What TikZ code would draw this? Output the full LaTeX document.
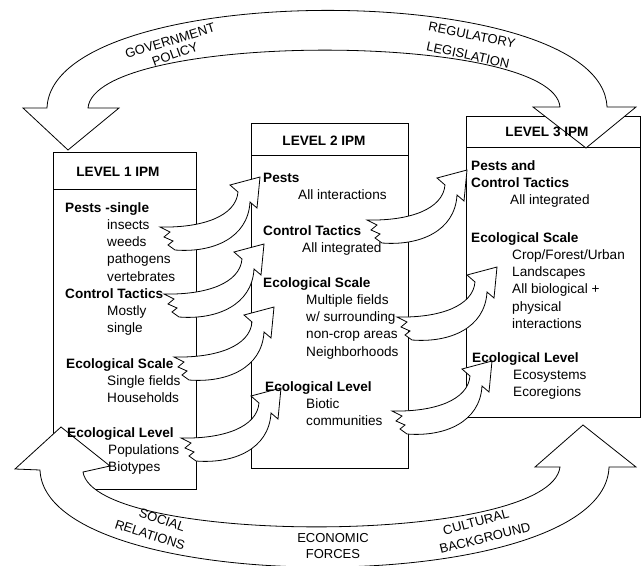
\documentclass[tikz,border=0pt]{standalone}
\usepackage{fontspec}
\setmainfont{Liberation Sans}
\usepackage{tikz}
\newcommand{\bentarrow}[1]{%
  \filldraw[band,shift={#1}] (-8,-11) -- (2,-6) -- (-4,-1) -- (5,3) -- (0,7) -- (7,12)
    .. controls (45,15) and (80,0) .. (82,-36) -- (89,-30) -- (92,-61) -- (62,-53) -- (70,-46)
    .. controls (68,-22) and (35,-10) .. (-8,-11) -- cycle;}

\begin{document}
\begin{tikzpicture}[x=1pt,y=-1pt,
    ipmbox/.style={draw,line width=0.9pt,fill=white},
    band/.style={draw,fill=white,line width=0.8pt,line join=miter},
    boxtitle/.style={inner sep=0pt,font=\bfseries\fontsize{13.6}{17.3}\selectfont},
    sect/.style={anchor=north west,inner sep=0pt,align=left,font=\fontsize{13.6}{17.3}\selectfont},
    arclabel/.style={inner sep=0pt,font=\fontsize{13}{15}\selectfont}]
  \useasboundingbox (0,0) rectangle (642,565);
  \fill[white] (0,0) rectangle (642,565);
  % the three boxes
  \draw[ipmbox] (53,152) rectangle (196,489);
  \draw[line width=0.9pt] (53,189) -- (196,189);
  \draw[ipmbox] (251,123) rectangle (408,468);
  \draw[line width=0.9pt] (251,155) -- (408,155);
  \draw[ipmbox] (466,116) rectangle (640,417);
  \draw[line width=0.9pt] (466,147) -- (640,147);
  % bent arrows, level 1 -> 2 -> 3
  \bentarrow{(168,238)}
  \bentarrow{(172,305)}
  \bentarrow{(182,368)}
  \bentarrow{(189,449)}
  \bentarrow{(375,231)}
  \bentarrow{(405,328)}
  \bentarrow{(400,422)}
  % big arcs
  \filldraw[band] (47,108) -- (23,108) -- (68,150) -- (119,108) -- (88,108)
    .. controls (95,31) and (553,31) .. (560,107) -- (533,107) -- (586,148) -- (636,107) -- (607,107)
    .. controls (602,-22) and (52,-22) .. (47,108) -- cycle;
  \filldraw[band] (40,470) -- (15,469) -- (61,427) -- (110,466) -- (83,472)
    .. controls (95,546) and (550,546) .. (560,467) -- (535,467) -- (583,425) -- (636,467) -- (609,467)
    .. controls (605,600) and (45,600) .. (40,470) -- cycle;
  % titles
  \node[boxtitle] (title1) at (118,172) {LEVEL 1 IPM};
  \node[boxtitle] (title2) at (324,141) {LEVEL 2 IPM};
  \node[boxtitle] (title3) at (547,132) {LEVEL 3 IPM};
  % level 1
  \node[sect] (pests1) at (65,202) {\textbf{Pests -single}\\\hspace*{42pt}insects\\\hspace*{42pt}weeds\\\hspace*{42pt}pathogens\\\hspace*{42pt}vertebrates};
  \node[sect] (tactics1) at (65,288) {\textbf{Control Tactics}\\\hspace*{42pt}Mostly\\\hspace*{42pt}single};
  \node[sect] (scale1) at (66,358) {\textbf{Ecological Scale}\\\hspace*{41pt}Single fields\\\hspace*{41pt}Households};
  \node[sect] (level1) at (67,427) {\textbf{Ecological Level}\\\hspace*{41pt}Populations\\\hspace*{41pt}Biotypes};
  % level 2
  \node[sect] (pests2) at (263,173) {\textbf{Pests}\\\hspace*{35pt}All interactions};
  \node[sect] (tactics2) at (263,225) {\textbf{Control Tactics}\\\hspace*{39pt}All integrated};
  \node[sect] (scale2) at (263,277) {\textbf{Ecological Scale}\\\hspace*{43pt}Multiple fields\\\hspace*{43pt}w/ surrounding\\\hspace*{43pt}non-crop areas\\\hspace*{43pt}Neighborhoods};
  \node[sect] (level2) at (265,381) {\textbf{Ecological Level}\\\hspace*{41pt}Biotic\\\hspace*{41pt}communities};
  % level 3
  \node[sect] (pests3) at (471,160) {\textbf{Pests and}\\\textbf{Control Tactics}\\\hspace*{39pt}All integrated};
  \node[sect] (scale3) at (471,232) {\textbf{Ecological Scale}\\\hspace*{41pt}Crop/Forest/Urban\\\hspace*{41pt}Landscapes\\\hspace*{41pt}All biological +\\\hspace*{41pt}physical\\\hspace*{41pt}interactions};
  \node[sect] (level3) at (472,352) {\textbf{Ecological Level}\\\hspace*{41pt}Ecosystems\\\hspace*{41pt}Ecoregions};
  % labels on the arcs
  \node[arclabel,rotate=17] (gov) at (170,41) {GOVERNMENT};
  \node[arclabel,rotate=20] (pol) at (175,54) {POLICY};
  \node[arclabel,rotate=-11] (reg) at (472,35) {REGULATORY};
  \node[arclabel,rotate=-12] (leg) at (468,55) {LEGISLATION};
  \node[arclabel,rotate=-19] (soc) at (162,520) {SOCIAL};
  \node[arclabel,rotate=-18] (rel) at (150,535) {RELATIONS};
  \node[arclabel] (eco) at (333,538) {ECONOMIC};
  \node[arclabel] (for) at (333,554) {FORCES};
  \node[arclabel,rotate=15] (cul) at (476,522) {CULTURAL};
  \node[arclabel,rotate=14] (bac) at (485,538) {BACKGROUND};
\end{tikzpicture}
\end{document}
